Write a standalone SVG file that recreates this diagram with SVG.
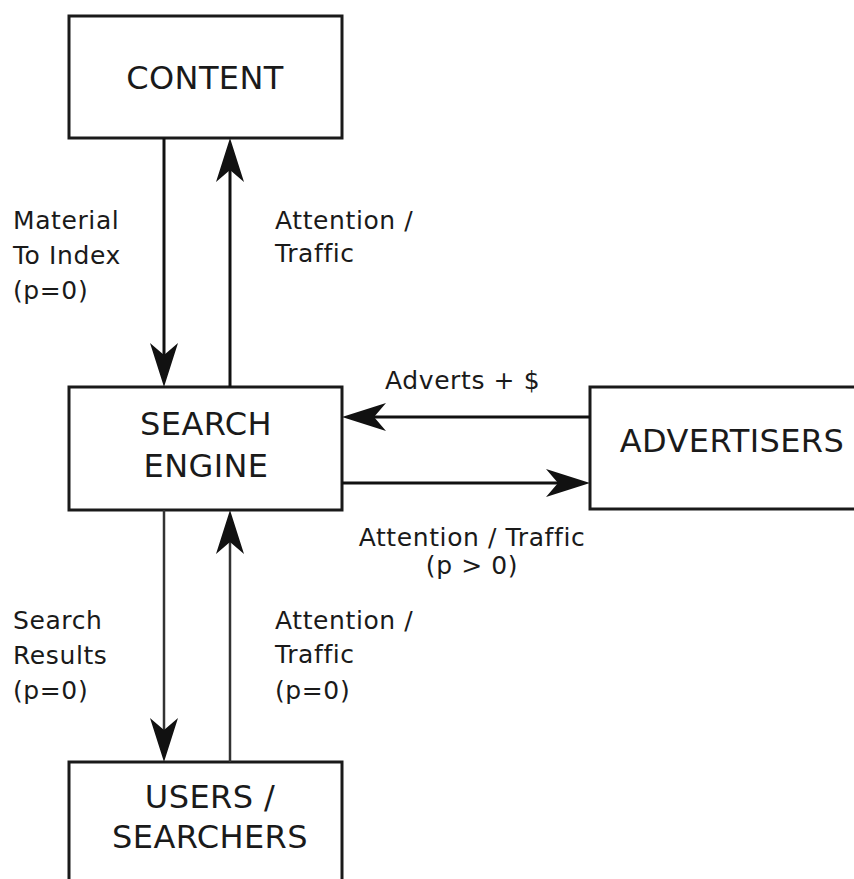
<svg xmlns="http://www.w3.org/2000/svg" width="854" height="879" viewBox="0 0 854 879">
<style>
.box{fill:#fff;stroke:#1a1a1a;stroke-width:3}
.nt{font-family:"DejaVu Sans",sans-serif;font-size:32px;letter-spacing:0.4px;fill:#1a1a1a;text-anchor:middle}
.lb{font-family:"DejaVu Sans",sans-serif;font-size:25px;letter-spacing:0.6px;fill:#1a1a1a}
.ln{stroke:#111;stroke-width:3;fill:none;marker-end:url(#ah)}
.ln2{stroke:#333;stroke-width:2.5;fill:none;marker-end:url(#ah)}
</style>
<defs>
<marker id="ah" markerUnits="userSpaceOnUse" markerWidth="50" markerHeight="32" viewBox="-46 -16 50 32" refX="-10" refY="0" orient="auto">
<path d="M0,0 L-44,-14 L-32,0 L-44,14 Z" fill="#111"/>
</marker>
</defs>
<rect width="854" height="879" fill="#fff"/>
<g id="content"><rect class="box" x="69" y="16" width="273" height="122"/><text class="nt" x="205" y="89">CONTENT</text></g>
<g id="search-engine"><rect class="box" x="69" y="387" width="273" height="123"/><text class="nt" x="206" y="435">SEARCH</text><text class="nt" x="206" y="477">ENGINE</text></g>
<g id="advertisers"><rect class="box" x="590" y="387" width="300" height="122"/><text class="nt" x="732" y="452">ADVERTISERS</text></g>
<g id="users"><rect class="box" x="69" y="762" width="273" height="150"/><text class="nt" x="210" y="808">USERS /</text><text class="nt" x="210" y="848">SEARCHERS</text></g>
<g id="connectors">
<line class="ln" x1="164" y1="138" x2="164" y2="377"/>
<line class="ln" x1="230" y1="387" x2="230" y2="148"/>
<line class="ln" x1="590" y1="417" x2="352" y2="417"/>
<line class="ln" x1="342" y1="483" x2="580" y2="483"/>
<line class="ln2" x1="164" y1="510" x2="164" y2="752"/>
<line class="ln2" x1="230" y1="762" x2="230" y2="520"/>
</g>
<g id="labels">
<text class="lb" x="13" y="229">Material</text>
<text class="lb" x="13" y="264">To Index</text>
<text class="lb" x="13" y="299">(p=0)</text>
<text class="lb" x="275" y="229">Attention /</text>
<text class="lb" x="275" y="262">Traffic</text>
<text class="lb" x="385" y="389">Adverts + $</text>
<text class="lb" x="472" y="546" text-anchor="middle">Attention / Traffic</text>
<text class="lb" x="472" y="574" text-anchor="middle">(p &gt; 0)</text>
<text class="lb" x="13" y="629">Search</text>
<text class="lb" x="13" y="664">Results</text>
<text class="lb" x="13" y="699">(p=0)</text>
<text class="lb" x="275" y="629">Attention /</text>
<text class="lb" x="275" y="663">Traffic</text>
<text class="lb" x="275" y="699">(p=0)</text>
</g>
</svg>
